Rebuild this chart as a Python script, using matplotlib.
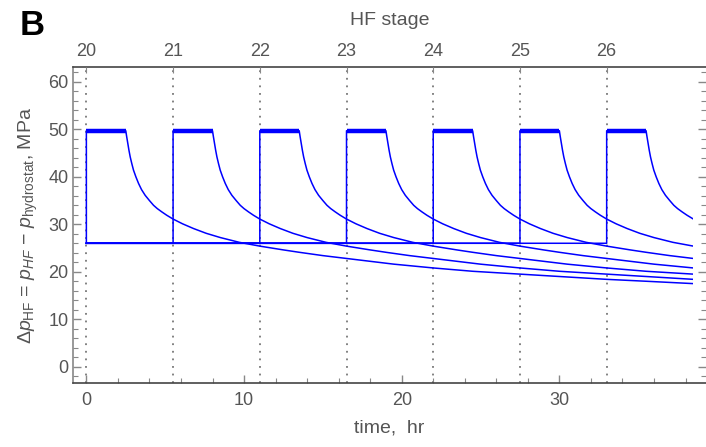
import matplotlib.pyplot as plt
import numpy as np
from matplotlib.patches import Rectangle
from matplotlib.ticker import MultipleLocator

plt.rcParams['font.family'] = ['Liberation Sans', 'DejaVu Sans']
plt.rcParams['mathtext.fontset'] = 'custom'
plt.rcParams['mathtext.rm'] = 'Liberation Sans'
plt.rcParams['mathtext.it'] = 'Liberation Sans:italic'

# HF stages: start times (hr) and stage numbers
stage_starts = [0, 5.5, 11, 16.5, 22, 27.5, 33]
stage_labels = [20, 21, 22, 23, 24, 25, 26]

# pressure levels (MPa) and pumping duration (hr)
baseline_p = 26.0
pump_p = 49.7
pump_hours = 2.5
t_end = 38.5

# pressure decay after shut-in (hr after shut-in, MPa)
decay_dt = [0, 0.05, 0.13, 0.2, 0.28, 0.38, 0.49, 0.64, 0.81, 1.0, 1.23, 1.5,
            1.76, 2.0, 2.29, 2.6, 3.0, 3.6, 4.3, 5.1, 6.0, 7.2, 8.5, 10, 11,
            12.5, 14, 15.5, 17, 19.5, 22, 25, 28, 30.5, 33, 36]
decay_p = [49.7, 48.6, 47.0, 45.6, 44.2, 42.8, 41.4, 40.0, 38.6, 37.3, 36.1, 35.0,
           34.0, 33.3, 32.6, 31.9, 31.1, 30.1, 29.1, 28.1, 27.2, 26.2, 25.4, 24.6, 24.1,
           23.4, 22.8, 22.2, 21.6, 20.8, 20.1, 19.5, 18.9, 18.4, 18.0, 17.5]

fig = plt.figure(figsize=(7.06, 4.47), dpi=100)
ax = fig.add_axes([0.1038, 0.1425, 0.8962, 0.7083])

grey_text = '#555555'
blue = '#0000ff'

# dotted stage markers
for ts in stage_starts:
    ax.axvline(ts, color='#777777', lw=1.3, linestyle=(0, (1, 3.2)), zorder=1)

clip = Rectangle((-5, -50), t_end + 5, 200, transform=ax.transData)
for ts in stage_starts:
    t = np.concatenate(([0, ts, ts], ts + pump_hours + np.array(decay_dt)))
    p = np.concatenate(([baseline_p, baseline_p, pump_p], decay_p))
    line, = ax.plot(t, p, color=blue, lw=1.1, zorder=3)
    line.set_clip_path(clip)

# thick band while pumping
ax.hlines([pump_p] * len(stage_starts), stage_starts,
          np.array(stage_starts) + pump_hours, color=blue, lw=3.2, zorder=3)

ax.set_xlim(-0.83, 39.3)
ax.set_ylim(-3.5, 63.2)
ax.xaxis.set_major_locator(MultipleLocator(10))
ax.xaxis.set_minor_locator(MultipleLocator(2))
ax.yaxis.set_major_locator(MultipleLocator(10))
ax.yaxis.set_minor_locator(MultipleLocator(2))
ax.tick_params(which='both', direction='in', colors='#888888', labelcolor=grey_text,
               labelsize=13, right=True, top=False)
ax.tick_params(which='major', length=6, width=1)
ax.tick_params(which='minor', length=3.5, width=0.8)
ax.tick_params(axis='x', pad=6)

ax.spines['right'].set_visible(False)
ax.spines['left'].set_color('#888888')
ax.spines['bottom'].set_color('#444444')
ax.spines['top'].set_color('#444444')
for s in ax.spines.values():
    s.set_linewidth(1.2)

ax.set_xlabel('time,  hr', fontsize=14, color=grey_text, labelpad=8)
ax.set_ylabel(r'$\Delta p_{\mathrm{HF}}$ = $p_{HF}$ $-$ $p_{\mathrm{hydrostat}}$, MPa',
              fontsize=14, color=grey_text, labelpad=6)

top = ax.twiny()
top.set_xlim(ax.get_xlim())
top.set_xticks(stage_starts)
top.set_xticklabels([str(s) for s in stage_labels])
top.tick_params(direction='in', colors='#888888', labelcolor=grey_text,
                labelsize=13, length=4, pad=5)
top.set_xlabel('HF stage', fontsize=14, color=grey_text, labelpad=13)
for s in top.spines.values():
    s.set_visible(False)

fig.text(0.028, 0.922, 'B', fontsize=25, fontweight='bold', color='black')

fig.savefig('out.png', dpi=100)
